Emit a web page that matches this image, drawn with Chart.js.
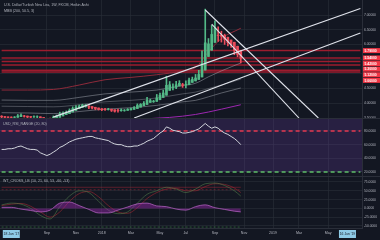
<!DOCTYPE html>
<html>
<head>
<meta charset="utf-8">
<script src="https://cdn.jsdelivr.net/npm/chart.js@4.4.0/dist/chart.umd.min.js"></script>
<style>
html,body{margin:0;padding:0;background:#131722;overflow:hidden;}
canvas{display:block;}
</style>
</head>
<body>
<canvas id="chart" width="380" height="240"></canvas>
<script>
// ===== DATA =====
const startWeek = '2017-05-28';
const weekCount = 112;
const weeks = [];
for (let i = 0; i < weekCount; i++) {
  weeks.push(new Date(Date.UTC(2017, 4, 28 + 7 * i)).toISOString().slice(0, 10));
}
const weekOf = d => weeks[Math.round((Date.parse(d) - Date.parse(startWeek)) / 6048e5)];

// heikin ashi weekly candles, 2017-05-28 .. 2018-10-28
const haOpen = [3.56,3.55,3.537,3.53,3.525,3.527,3.548,3.571,3.566,3.55,3.54,3.54,3.54,3.515,3.49,3.46,3.455,3.49,3.525,3.57,
  3.615,3.65,3.705,3.76,3.815,3.86,3.895,3.91,3.89,3.865,3.84,3.815,3.80,3.795,3.80,3.78,3.755,3.75,3.76,3.76,
  3.775,3.795,3.82,3.87,3.915,3.96,4.03,4.06,4.065,4.12,4.20,4.275,4.44,4.535,4.55,4.59,4.635,4.62,4.63,4.71,
  4.76,4.81,4.895,5.13,5.59,5.805,6.07,6.315,6.31,6.31,6.24,6.15,6.075,5.94,5.80];
const haClose = [3.54,3.525,3.52,3.52,3.53,3.57,3.595,3.56,3.535,3.53,3.54,3.54,3.49,3.46,3.43,3.45,3.52,3.56,3.62,3.66,
  3.69,3.76,3.82,3.87,3.90,3.93,3.92,3.87,3.84,3.82,3.79,3.78,3.79,3.80,3.76,3.73,3.75,3.77,3.76,3.79,
  3.815,3.85,3.925,3.96,4.00,4.10,4.09,4.07,4.18,4.275,4.35,4.61,4.63,4.56,4.63,4.68,4.605,4.645,4.79,4.81,
  4.86,4.98,5.36,6.055,6.02,6.34,6.56,6.30,6.275,6.175,6.06,6.00,5.81,5.66,5.53];
const haHigh = [3.58,3.55,3.54,3.54,3.55,3.62,3.64,3.59,3.566,3.55,3.57,3.57,3.54,3.515,3.49,3.50,3.57,3.60,3.70,3.71,
  3.74,3.81,3.88,3.92,3.94,3.97,3.96,3.91,3.89,3.865,3.84,3.82,3.83,3.83,3.80,3.78,3.80,3.81,3.79,3.82,
  3.84,3.89,3.98,3.99,4.06,4.20,4.14,4.10,4.30,4.35,4.45,4.92,4.74,4.66,4.75,4.77,4.68,4.76,4.86,4.89,
  4.98,5.12,5.78,7.20,6.20,6.65,6.80,6.60,6.45,6.35,6.25,6.15,6.075,5.94,5.80];
const haLow = [3.51,3.50,3.50,3.50,3.51,3.52,3.548,3.53,3.51,3.51,3.52,3.51,3.45,3.44,3.39,3.40,3.455,3.49,3.525,3.57,
  3.615,3.65,3.705,3.76,3.815,3.86,3.87,3.82,3.81,3.78,3.77,3.75,3.76,3.77,3.72,3.70,3.70,3.73,3.73,3.76,
  3.775,3.795,3.82,3.87,3.915,3.96,4.03,4.03,4.065,4.12,4.20,4.275,4.44,4.45,4.50,4.59,4.54,4.52,4.63,4.71,
  4.76,4.81,4.895,5.13,5.59,5.805,6.07,6.10,6.08,6.00,5.95,5.90,5.65,5.58,5.37];

// MBB bands, sampled
const bandDates = ['2017-05-28','2017-07-23','2017-09-17','2017-11-12','2018-01-07','2018-03-04','2018-04-29','2018-06-24','2018-07-22','2018-08-19','2018-09-16','2018-10-28'];
const bandOuter = [4.45,4.45,4.47,4.62,4.80,4.88,4.97,5.10,5.22,5.75,6.20,6.55];
const bandInner = [4.11,4.10,4.10,4.20,4.32,4.38,4.45,4.60,4.68,4.90,5.10,5.37];
const bandMid   = [3.90,3.89,3.88,3.95,4.05,4.10,4.18,4.32,4.38,4.50,4.62,4.82];
const bandLower = [3.68,3.67,3.65,3.72,3.80,3.85,3.93,4.05,4.10,4.22,4.35,4.52];
const maDates = ['2018-03-04','2018-05-27','2018-07-22','2018-09-16','2018-10-28'];
const maValues = [3.45,3.52,3.62,3.80,3.95];

// horizontal levels and trend lines
const levels = [5.79,5.54,5.42,5.30,5.12,5.06];
const trendUpA = [['2017-09-17',3.53],['2019-07-14',7.22]];
const trendUpB = [['2018-03-11',3.50],['2019-07-14',6.39]];
const trendDownA = [['2018-08-12',7.17],['2019-04-14',3.50]];
const trendDownB = [['2018-08-26',6.69],['2019-03-03',3.50]];

// RSI weekly
const rsi = [53,53,54,54,55,57,58,56,54,53,53,52,48,46,44,46,49,52,56,58,
  61,64,66,68,69,70,71,72,72,70,69,68,67,66,63,61,60,60,58,57,
  57,58,58,60,62,65,67,69,73,77,80,86,84,81,80,79,77,77,78,79,
  81,83,87,91,87,84,86,84,80,77,75,72,69,65,60];
const rsiUpper = 80, rsiLower = 20;

// WaveTrend, sampled every 3 weeks
const wtDates = ['2017-05-28','2017-06-18','2017-07-09','2017-07-30','2017-08-20','2017-09-10','2017-10-01','2017-10-22','2017-11-12','2017-12-03',
  '2017-12-24','2018-01-14','2018-02-04','2018-02-25','2018-03-18','2018-04-08','2018-04-29','2018-05-20','2018-06-10','2018-07-01',
  '2018-07-22','2018-08-12','2018-09-02','2018-09-23','2018-10-14','2018-10-28'];
const wt1 = [10,15,12,0,-20,-30,5,35,50,45,20,-5,-15,-10,15,40,50,60,55,45,55,70,72,65,50,35];
const wt2 = [8,12,14,6,-10,-25,-10,20,42,48,33,8,-10,-14,2,28,45,55,57,50,50,62,70,68,58,45];
const wtHist = [3,3,-2,-6,-10,-5,15,18,8,-3,-13,-13,-5,4,13,15,7,5,-2,-5,5,10,2,-3,-8,-10];
const wtLevels = [60,53,-53,-60];

// ticks
const priceTicks = [3.5,4,4.5,5,5.5,6,6.5,7];
const rsiTicks = [20,40,60,80];
const wtTicks = [-50,-25,0,25,50,75];
const monthTickDates = ['2017-09-03','2017-11-05','2017-12-31','2018-03-04','2018-05-06','2018-07-01','2018-09-02','2018-11-04','2019-01-06','2019-03-03','2019-05-05'];
const monthTickLabels = ['Sep','Nov','2018','Mar','May','Jul','Sep','Nov','2019','Mar','May'];
const rangeMarks = [['2017-06-18',"18 Jun '17"],['2019-06-16',"16 Jun '19"]];

// ===== STYLE =====
const UP = '#53b987', DOWN = '#eb4d5c';
const gridColor = 'rgba(42,46,57,0.6)';
const axisText = '#b2b5be';
const FONT = '"Liberation Sans", Arial, sans-serif';
Chart.defaults.font.family = FONT;

const pts = (dates, vals) => dates.map((d, i) => ({x: weekOf(d), y: vals[i]}));
const seg = s => s.map(p => ({x: weekOf(p[0]), y: p[1]}));
const candleColors = haOpen.map((o, i) => haClose[i] >= o ? UP : DOWN);
const lastCandle = weeks[haOpen.length - 1];

function line(data, color, yAxisID, extra) {
  return Object.assign({type: 'line', data, borderColor: color, borderWidth: 1, pointRadius: 0, yAxisID, order: 3}, extra || {});
}

const datasets = [
  {type: 'bar', data: haOpen.map((o, i) => [o, haClose[i]]), backgroundColor: candleColors, barThickness: 2, grouped: false, yAxisID: 'y', order: 1},
  {type: 'bar', data: haLow.map((l, i) => [l, haHigh[i]]), backgroundColor: candleColors, barThickness: 1, grouped: false, yAxisID: 'y', order: 2},
  line(pts(bandDates, bandOuter), '#8e2a3a', 'y', {cubicInterpolationMode: 'monotone'}),
  line(pts(bandDates, bandInner), 'rgba(178,181,190,0.45)', 'y', {cubicInterpolationMode: 'monotone'}),
  line(pts(bandDates, bandMid), 'rgba(178,181,190,0.35)', 'y', {cubicInterpolationMode: 'monotone'}),
  line(pts(bandDates, bandLower), 'rgba(178,181,190,0.45)', 'y', {cubicInterpolationMode: 'monotone'}),
  line(pts(maDates, maValues), '#9c27b0', 'y', {cubicInterpolationMode: 'monotone'}),
  ...levels.map(v => line([{x: weeks[0], y: v}, {x: weeks[weekCount - 1], y: v}], '#9c1c2e', 'y', {borderWidth: 1.5, order: 4})),
  ...[trendUpA, trendUpB, trendDownA, trendDownB].map(t => line(seg(t), '#e0e3eb', 'y', {borderWidth: 1.1, order: 0})),
  line([{x: weeks[0], y: rsiUpper}, {x: weeks[weekCount - 1], y: rsiUpper}], '#e53950', 'rsi', {borderWidth: 1.5, borderDash: [4, 3]}),
  line([{x: weeks[0], y: rsiLower}, {x: weeks[weekCount - 1], y: rsiLower}], '#5fbf6a', 'rsi', {borderWidth: 1.5, borderDash: [4, 3]}),
  line(rsi, '#d1d4dc', 'rsi', {order: 0}),
  line(pts(wtDates, wtHist), 'rgba(186,104,200,0.7)', 'wt', {fill: 'origin', backgroundColor: 'rgba(156,39,176,0.45)', cubicInterpolationMode: 'monotone'}),
  line(pts(wtDates, wt1), 'rgba(90,140,80,0.5)', 'wt', {cubicInterpolationMode: 'monotone'}),
  line(pts(wtDates, wt2), 'rgba(160,40,50,0.6)', 'wt', {cubicInterpolationMode: 'monotone'}),
  ...wtLevels.map(v => line([{x: weeks[0], y: v}, {x: lastCandle, y: v}], v > 0 ? 'rgba(180,40,55,0.45)' : 'rgba(76,175,80,0.45)', 'wt', {borderDash: Math.abs(v) === 53 ? [2, 2] : []}))
];

// ===== PANES PLUGIN =====
const panes = {
  id: 'panes',
  beforeDatasetsDraw(chart) {
    const {ctx, chartArea, scales} = chart;
    const r = scales.rsi;
    ctx.save();
    ctx.fillStyle = 'rgba(126,70,194,0.2)';
    ctx.fillRect(chartArea.left, r.top, chartArea.width, r.getPixelForValue(rsiLower) - r.top);
    ctx.restore();
  },
  beforeDatasetDraw(chart, args) {
    const s = chart.scales[args.meta.yAxisID];
    const ctx = chart.ctx;
    ctx.save();
    ctx.beginPath();
    ctx.rect(chart.chartArea.left, s.top, chart.chartArea.width, s.height);
    ctx.clip();
  },
  afterDatasetDraw(chart) { chart.ctx.restore(); },
  afterDraw(chart) {
    const {ctx, chartArea, scales} = chart;
    ctx.save();
    // pane separators
    ctx.strokeStyle = '#2a2e39';
    ctx.lineWidth = 1;
    [scales.rsi.top, scales.wt.top].forEach(y => {
      ctx.beginPath(); ctx.moveTo(0, Math.round(y) + 0.5); ctx.lineTo(380, Math.round(y) + 0.5); ctx.stroke();
    });
    // titles
    ctx.fillStyle = axisText;
    ctx.font = '3.6px ' + FONT;
    ctx.textBaseline = 'middle';
    ctx.fillText('U.S. Dollar/Turkish New Lira, 1W, FXCM, Heikin Ashi', 4, scales.y.top + 5);
    ctx.fillText('MBB (200, 50.5, 3)', 4, scales.y.top + 11);
    ctx.fillText('USD_RSI_RANGE (20, 80)', 3, scales.rsi.top + 6);
    ctx.fillText('WT_CROSS_LB (10, 21, 60, 53, -60, -53)', 3, scales.wt.top + 5);
    // level boxes on the price axis
    const bh = 5;
    let prev = -99;
    ctx.font = 'bold 3.4px ' + FONT;
    levels.slice().sort((a, b) => b - a).forEach(v => {
      let y = scales.y.getPixelForValue(v);
      y = Math.max(y, prev + bh + 0.6);
      prev = y;
      ctx.fillStyle = '#f23645';
      ctx.fillRect(chartArea.right + 1, y - bh / 2, 17, bh);
      ctx.fillStyle = '#ffffff';
      ctx.fillText(v.toFixed(5), chartArea.right + 2.5, y + 0.2);
    });
    // range date boxes on time axis
    ctx.font = '3.4px ' + FONT;
    rangeMarks.forEach(([d, txt]) => {
      const x = scales.x.getPixelForValue(weeks.indexOf(weekOf(d)));
      const w = 17, y = scales.x.top + 6;
      ctx.fillStyle = '#8ecae6';
      ctx.fillRect(x - w / 2, y - 4, w, 8);
      ctx.fillStyle = '#131722';
      ctx.textAlign = 'center';
      ctx.fillText(txt, x, y);
    });
    ctx.restore();
  }
};

function yAxis(min, max, weight, tickVals, decimals) {
  return {
    type: 'linear', position: 'right', stack: 'panes', stackWeight: weight, min, max,
    grid: {color: gridColor, drawTicks: false},
    border: {color: '#2a2e39'},
    ticks: {color: axisText, font: {size: 3.3}, padding: 2, autoSkip: false, callback: v => v.toFixed(decimals)},
    afterBuildTicks: s => { s.ticks = tickVals.map(v => ({value: v})); },
    afterFit: s => { s.width = 18; s.paddingTop = 0; s.paddingBottom = 0; }
  };
}

new Chart(document.getElementById('chart'), {
  data: {labels: weeks, datasets},
  options: {
    responsive: false,
    animation: false,
    devicePixelRatio: 1,
    layout: {padding: 0},
    plugins: {legend: {display: false}, tooltip: {enabled: false}},
    scales: {
      x: {
        type: 'category', offset: true,
        grid: {color: gridColor, drawTicks: false, offset: false},
        border: {color: '#2a2e39'},
        ticks: {
          autoSkip: false, maxRotation: 0, padding: 3, color: axisText, font: {size: 3.6},
          callback: v => monthTickLabels[monthTickDates.map(weekOf).indexOf(weeks[v])]
        },
        afterBuildTicks: s => { s.ticks = monthTickDates.map(d => ({value: weeks.indexOf(weekOf(d))})); },
        afterFit: s => { s.height = 12; s.paddingLeft = 0; s.paddingRight = 0; }
      },
      y: yAxis(3.5, 7.51, 118, priceTicks, 5),
      rsi: yAxis(14.1, 99, 58, rsiTicks, 4),
      wt: yAxis(-55.7, 92, 52, wtTicks, 4)
    }
  },
  plugins: [panes, {
    id: 'bg',
    beforeDraw(chart) {
      const ctx = chart.ctx;
      ctx.save(); ctx.fillStyle = '#131722'; ctx.fillRect(0, 0, chart.width, chart.height); ctx.restore();
    }
  }]
});
</script>
</body>
</html>
